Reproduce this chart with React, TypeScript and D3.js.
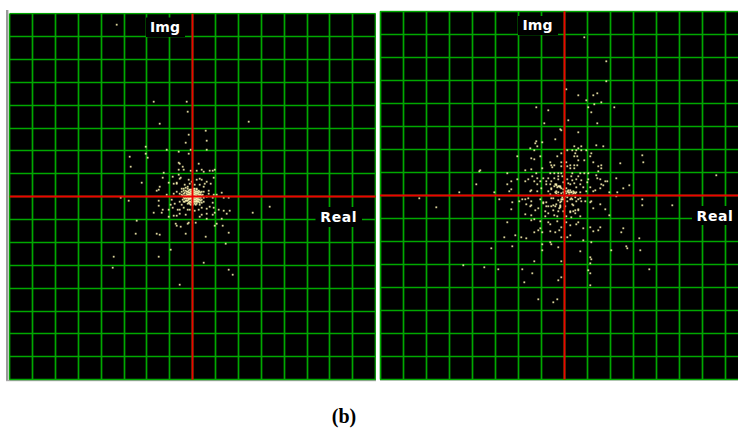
import * as d3 from "d3";

// points: [real, imag], in counts from the origin
const leftPoints: [number, number][] = [
  [-76,172],[-39,95],[-6,95],[-5,85],[-33,73],[56,75],[-4,62],[13,66],[-7,54],[14,56],[-47,50],[-26,47],[-2,47],[14,47],
  [-14,45],[-4,43],[-47,43],[-63,40],[-45,39],[-62,30],[-14,34],[-13,33],[6,33],[-10,30],[-14,27],[-9,27],[-2,26],[4,26],
  [9,27],[11,25],[17,26],[20,26],[22,27],[-29,24],[-20,20],[-14,22],[-30,19],[-12,19],[-51,14],[-24,14],[21,19],[-36,6],
  [-34,7],[-33,10],[-26,2],[-72,-1],[-64,-4],[-34,-4],[-34,-9],[-39,-16],[-31,-16],[-30,-13],[-24,-13],[-24,-20],[-19,-19],
  [-16,-19],[-7,-18],[7,-20],[14,-22],[20,-18],[22,-16],[29,-22],[31,-14],[34,-17],[37,-14],[60,-16],[77,-10],[29,4],[31,-1],
  [36,-1],[26,-13],[-56,-24],[-17,-27],[-16,-29],[-12,-30],[-5,-27],[-4,-26],[3,-26],[22,-29],[24,-27],[30,-29],[-57,-37],
  [-36,-37],[-33,-38],[-7,-37],[36,-36],[13,-40],[33,-47],[-22,-53],[-79,-60],[-34,-60],[11,-66],[-80,-71],[36,-73],[40,-78],
  [-13,-88],
  [-16,14],[-16,13],[-11,8],[-9,8],[-4,17],[-3,13],[-8,12],[-5,10],[4,17],[7,18],[9,17],[14,15],[12,13],[18,13],[7,12],[11,10],
  [16,6],[4,8],[14,0],[-19,13],[-13,18],[-1,15],[2,12],[-16,5],[-19,3],[-21,-3],[-22,-8],[-20,-11],[-15,-13],[-13,-13],[-13,-17],
  [-18,-7],[-13,-5],[-11,-8],[-9,-11],[-5,-13],[-3,-13],[2,-14],[6,-13],[9,-11],[14,-12],[17,-10],[20,-6],[21,-11],[14,-17],
  [9,-18],[11,-5],[11,-1],[21,2],[24,2],[20,-1],[16,3],[11,5],[7,-8],[4,-5],[-8,-5],[-9,-1],[-13,3],[-11,5],
  [-9,3],[-8,-2],[-7,6],[-7,1],[-6,-4],[-6,3],[-5,8],[-5,-1],[-5,-7],[-4,4],[-4,0],[-4,-3],[-3,7],[-3,2],[-3,-5],[-2,5],[-2,1],
  [-2,-2],[-2,-8],[-1,3],[-1,-1],[-1,-4],[-1,7],[0,5],[0,2],[0,-2],[0,-6],[1,4],[1,0],[1,-3],[1,8],[2,6],[2,2],[2,-1],[2,-5],
  [3,3],[3,0],[3,-3],[3,-8],[4,5],[4,1],[4,-2],[5,3],[5,-1],[5,-5],[6,6],[6,0],[6,-3],[7,2],[7,-6],[8,4],[8,-1],[9,-3],[-10,-3],
  [-11,2],[10,2],
  // the bright core, where the dots merge
  [-8,1],[-8,4],[-7,-1],[-7,-4],[-6,1],[-6,5],[-6,-2],[-5,2],[-5,5],[-5,-4],[-4,2],[-4,6],[-4,-2],[-4,-6],[-3,0],[-3,4],[-3,-2],[-3,-7],
  [-2,3],[-2,7],[-2,-1],[-2,-5],[-1,1],[-1,5],[-1,-2],[-1,-6],[0,0],[0,3],[0,7],[0,-4],[0,-8],[1,2],[1,6],[1,-1],[1,-5],[2,0],[2,4],[2,8],
  [2,-3],[2,-7],[3,1],[3,5],[3,-1],[3,-5],[4,3],[4,7],[4,-1],[4,-4],[4,-7],[5,0],[5,5],[5,-3],[6,2],[6,4],[6,-1],[6,-5],[7,0],[7,5],[7,-3],
  [8,2],[8,-4],[9,1],[9,-6],[-9,-5],[-10,1],[-9,6],[-7,9],[9,5],
];

const rightPoints: [number, number][] = [
  [20,158],[42,134],[42,114],[2,106],[14,100],[29,100],[33,102],[22,95],[30,91],[37,93],[-28,88],[24,88],[50,88],[-16,85],[27,83],
  [4,75],[-20,72],[33,72],[-4,66],[-3,65],[14,63],[-9,56],[-28,54],[-29,52],[-22,53],[-27,49],[32,50],[10,49],[17,49],[39,49],
  [-34,47],[-30,45],[3,45],[8,45],[12,45],[17,45],[14,47],[22,45],[11,42],[27,42],[-47,39],[-24,39],[-3,42],[-7,39],[10,39],[13,39],
  [26,39],[-33,37],[-30,36],[-14,33],[-3,33],[2,33],[14,35],[20,35],[29,33],[78,40],[79,33],[56,32],[-39,25],[-33,26],[-22,27],
  [-13,30],[-10,30],[-12,28],[-3,29],[3,29],[6,30],[10,30],[13,30],[37,30],[34,29],[37,27],[10,27],[6,27],[34,24],[-84,25],[-57,22],
  [-28,22],[-14,22],[-10,22],[-6,22],[-3,22],[8,22],[16,22],[20,22],[24,22],[32,20],[52,17],[-53,14],[-47,16],[-36,16],[-32,19],
  [-27,17],[-21,17],[-16,17],[-10,17],[-6,19],[-2,19],[7,19],[14,19],[33,17],[36,16],[41,14],[43,14],[-57,11],[-39,14],[-30,14],
  [-24,14],[-18,14],[-13,14],[-6,16],[3,16],[8,15],[12,16],[17,15],[24,16],[65,10],[59,7],[-53,6],[-55,4],[-27,11],[-18,11],[-14,11],
  [-8,11],[-1,13],[6,11],[10,12],[16,11],[23,13],[37,11],[39,10],[-70,3],[53,3],[45,3],[-33,5],[-27,4],[-23,7],[-13,7],[-4,9],[2,7],
  [12,8],[19,8],[26,8],[31,5],[36,7],[-34,4],[-14,1],[-8,2],[4,3],[9,4],[16,3],[22,4],[29,4],[-16,4],[-9,3],[-6,3],[7,3],[12,3],
  [52,-1],[-65,-4],[-52,-7],[-45,-6],[-42,-4],[-39,-4],[-36,-3],[-33,-6],[-24,-4],[-21,-7],[-18,-7],[-13,-3],[-8,-9],[-4,-7],[-3,-6],
  [3,-6],[8,-9],[12,-6],[16,-3],[21,-6],[26,-7],[27,-6],[36,-9],[78,-4],[78,-10],[-38,-9],[-34,-11],[-33,-10],[-53,-14],[-26,-13],
  [-29,-15],[-18,-11],[-13,-11],[-9,-11],[-4,-11],[6,-17],[11,-15],[14,-14],[29,-13],[41,-14],[-39,-19],[-33,-20],[-30,-24],[-33,-25],
  [-24,-26],[-19,-21],[-10,-20],[-7,-21],[2,-21],[7,-22],[16,-21],[45,-20],[-57,-27],[-16,-27],[-14,-29],[-7,-26],[2,-27],[6,-30],
  [12,-29],[14,-27],[26,-32],[36,-32],[19,-33],[-3,-32],[-24,-33],[-26,-35],[-14,-36],[-9,-37],[-5,-35],[34,-35],[29,-36],[59,-33],
  [57,-37],[-30,-37],[-22,-37],[-49,-40],[-60,-42],[-43,-42],[-38,-43],[-3,-42],[3,-42],[6,-40],[19,-45],[75,-43],[-22,-49],[-14,-47],
  [-13,-49],[27,-47],[-52,-51],[-6,-52],[62,-51],[63,-53],[-22,-55],[47,-55],[76,-55],[16,-56],[-73,-53],[26,-62],[27,-64],[-30,-66],
  [-3,-66],[26,-68],[-80,-72],[-66,-74],[-42,-74],[24,-75],[26,-78],[-32,-78],[85,-74],[-3,-82],[-6,-85],[-40,-87],[26,-90],[-26,-104],
  [-7,-104],[-11,-107],[-85,24],[-88,11],[-105,3],[-145,-3],[-128,-12],[-101,-70],[152,20],[108,-10],
  [-3,2],[1,-1],[2,2],[-6,0],[4,5],[6,5],[7,3],[11,2],[1,4],[-8,4],[-13,6],[-6,9],[-3,7],[4,12],[-9,11],[-1,-4],[6,-4],[11,-2],[-6,-5],
  [-11,-3],[-4,-10],[1,-11],[9,-10],[-11,-10],[14,-4],[17,-6],[-8,10],[-4,8],[8,0],[3,-2],[-2,-2],[5,1],[-19,-16],[-16,-18],[9,-16],
  [6,-16],[11,-18],[14,-15],[-11,-15],[-6,-16],[-1,-16],[-16,-11],[-21,-8],
  // short bright streaks next to the origin
  [-1,3],[0,1],[-1,6],[3,4],[5,3],[9,2],[10,3],[-10,9],[-7,8],[-5,9],[-2,-4],[-3,-4],[7,-3],[8,-4],[-4,-12],[-5,-13],
];

const GREEN = "#00a800";
const RED = "#f00000";
const DOT = "#fff8b4";
const LABEL_FONT = "'DejaVu Sans', sans-serif";

type PanelProps = {
  id: string;
  points: [number, number][];
  cx: number;
  cy: number;
  cell: number;
  right: number;
  imgBox: [number, number, number, number];
  realBox: [number, number, number, number];
};

// keeps a line centred on one device pixel, so it gets a solid core and soft sides
const snap = (v: number) => Math.floor(v) + 0.5;

function Panel({ id, points, cx, cy, cell, right, imgBox, realBox }: PanelProps) {
  const span = cell * 8;
  const top = cy - span;
  const bottom = cy + span;
  const left = cx - span;
  const x = d3.scaleLinear().domain([-span, span]).range([left, cx + span]);
  const y = d3.scaleLinear().domain([-span, span]).range([bottom, top]);
  // the grid carries on past the last division on the cropped side
  const columns = d3.range(-8, 12).filter((s) => x(s * cell) < right);
  const rows = d3.range(-8, 9);

  return (
    <g clipPath={`url(#${id})`}>
      <clipPath id={id}>
        <rect x={left - 1} y={top - 1} width={right - left + 1} height={bottom - top + 2} />
      </clipPath>
      <rect x={left} y={top} width={right - left} height={bottom - top} fill="#000" />
      {columns.map((s) => (
        <line key={"v" + s} x1={snap(x(s * cell))} x2={snap(x(s * cell))} y1={top} y2={bottom} stroke={GREEN} strokeWidth={1.7} />
      ))}
      {rows.map((s) => (
        <line key={"h" + s} x1={left} x2={right} y1={snap(y(s * cell))} y2={snap(y(s * cell))} stroke={GREEN} strokeWidth={1.7} />
      ))}
      {points.map((p, i) => (
        <rect key={i} x={x(p[0]) - 0.9} y={y(p[1]) - 0.9} width={1.8} height={1.8} fill={DOT} fillOpacity={0.85} />
      ))}
      <line x1={snap(cx)} x2={snap(cx)} y1={top} y2={bottom} stroke={RED} strokeWidth={1.9} />
      <line x1={left} x2={right} y1={snap(cy)} y2={snap(cy)} stroke={RED} strokeWidth={1.9} />
      <rect x={imgBox[0]} y={imgBox[1]} width={imgBox[2]} height={imgBox[3]} fill="#000" />
      <rect x={realBox[0]} y={realBox[1]} width={realBox[2]} height={realBox[3]} fill="#000" />
      <text x={imgBox[0] + imgBox[2] / 2 - 0.5} y={imgBox[1] + 14} textAnchor="middle" fill="#fff"
        fontFamily={LABEL_FONT} fontWeight="bold" fontSize={14}>Img</text>
      <text x={realBox[0] + realBox[2] / 2} y={realBox[1] + 15} textAnchor="middle" fill="#fff"
        fontFamily={LABEL_FONT} fontWeight="bold" fontSize={14} letterSpacing={0.6}>Real</text>
    </g>
  );
}

export default function App() {
  return (
    <svg width={738} height={428} style={{ position: "absolute", left: 0, top: 0, background: "#fff" }}>
      <rect x={6} y={10} width={2.4} height={371} fill="#9a9a9a" />
      <rect x={6} y={380} width={370} height={1.2} fill="#a8a8a8" />
      <rect x={380} y={379.4} width={358} height={1.2} fill="#a8a8a8" />
      <Panel id="panel-a" points={leftPoints} cx={192.7} cy={196.7} cell={22.88} right={375.8}
        imgBox={[146, 17.5, 39, 19.5]} realBox={[315.5, 207, 46.5, 20]} />
      <Panel id="panel-b" points={rightPoints} cx={564.3} cy={195.3} cell={23.02} right={738}
        imgBox={[518, 16, 40, 19]} realBox={[692, 206, 46, 19]} />
      <text x={344} y={423} textAnchor="middle" fontFamily="'Liberation Serif', serif" fontWeight="bold" fontSize={20}>(b)</text>
    </svg>
  );
}
